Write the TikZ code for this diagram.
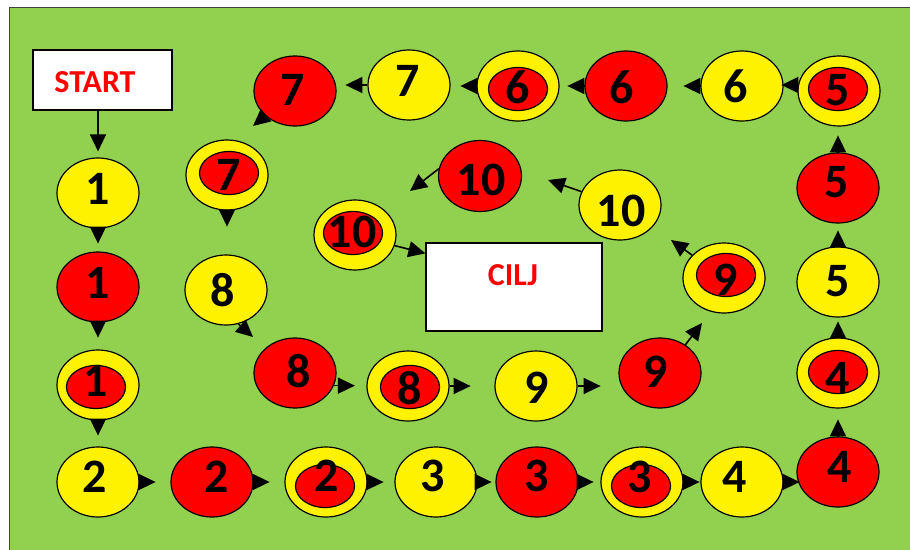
\documentclass[tikz,border=0pt]{standalone}
\usepackage{fontspec}
\setmainfont{Carlito}
\usetikzlibrary{shapes.geometric,arrows.meta}
\definecolor{bggreen}{HTML}{92D050}
\definecolor{bdgray}{HTML}{404040}
\tikzset{
 tok/.style={ellipse, draw=black, line width=1.2pt, minimum width=82pt, minimum height=70pt, inner sep=0pt},
 yel/.style={tok, fill=yellow},
 rd/.style={tok, fill=red},
 inr/.style={ellipse, draw=black, line width=1.2pt, fill=red, minimum width=59pt, minimum height=43pt, inner sep=0pt},
 num/.style={font=\bfseries\fontsize{48}{48}\selectfont, inner sep=0pt},
 lbl/.style={font=\bfseries\fontsize{32}{32}\selectfont, text=red, inner sep=0pt},
 whitebox/.style={draw=black, line width=1.2pt, fill=white, inner sep=0pt},
 tri/.style={line width=1.6pt, -{Triangle[length=17pt,width=16pt]}},
}
\begin{document}
\begin{tikzpicture}[x=1pt,y=-1pt]
\useasboundingbox (0,0) rectangle (910,549);
\draw[fill=bggreen, draw=bdgray, line width=1.5pt] (9.5,7.5) rectangle (930,570);

% boxes
\node[whitebox, minimum width=139pt, minimum height=60pt] (start) at (102.5,80) {};
\node[lbl] (startt) at (95,82) {START};
\node[whitebox, minimum width=176pt, minimum height=88pt] (cilj) at (514,287) {};
\node[lbl] (ciljt) at (513,275) {CILJ};

% plain tokens
\node[yel] (y1) at (98,193) {};  \node[num] (y1t) at (98,189) {1};
\node[rd]  (r1) at (98,287) {};  \node[num] (r1t) at (98,283) {1};
\node[yel] (y2) at (98,482) {};  \node[num] (y2t) at (95,477) {2};
\node[rd]  (r2) at (212,482) {}; \node[num] (r2t) at (217,477) {2};
\node[yel] (y3) at (436,482) {}; \node[num] (y3t) at (433,476) {3};
\node[rd]  (r3) at (537,482) {}; \node[num] (r3t) at (537,476) {3};
\node[yel] (y4) at (742,482) {}; \node[num] (y4t) at (735,477) {4};
\node[rd]  (r4) at (838,472) {}; \node[num] (r4t) at (840,467) {4};
\node[yel] (y5) at (838,282) {}; \node[num] (y5t) at (838,281) {5};
\node[rd]  (r5) at (838,188) {}; \node[num] (r5t) at (837,182) {5};
\node[yel] (y6) at (742,86) {};  \node[num] (y6t) at (736,86) {6};
\node[rd]  (r6) at (626,86) {};  \node[num] (r6t) at (622,87) {6};
\node[yel] (y7) at (409,85) {};  \node[num] (y7t) at (408,81) {7};
\node[rd]  (r7) at (295,91) {};  \node[num] (r7t) at (293,90) {7};
\node[yel] (y8) at (226,290) {}; \node[num] (y8t) at (223,290) {8};
\node[rd]  (r8) at (295,373) {}; \node[num] (r8t) at (299,371) {8};
\node[yel] (y9) at (536,386) {}; \node[num] (y9t) at (537,388) {9};
\node[rd]  (r9) at (660,373) {}; \node[num] (r9t) at (656,372) {9};
\node[yel] (y10) at (620,205) {}; \node[num] (y10t) at (621,211) {10};
\node[rd, minimum width=83pt, minimum height=71pt] (r10) at (480,176) {}; \node[num] (r10t) at (481,180) {10};

% double tokens
\node[yel] (d1) at (98,385) {};  \node[inr] (d1i) at (96,387) {};  \node[num] (d1t) at (96,381) {1};
\node[yel] (d2) at (326,482) {}; \node[inr] (d2i) at (325,486) {}; \node[num] (d2t) at (327,476) {2};
\node[yel] (d3) at (642,482) {}; \node[inr] (d3i) at (641,486) {}; \node[num] (d3t) at (640,477) {3};
\node[yel] (d4) at (838,373) {}; \node[inr] (d4i) at (838,372) {}; \node[num] (d4t) at (838,378) {4};
\node[yel] (d5) at (839,91) {};  \node[inr] (d5i) at (838,89) {};  \node[num] (d5t) at (838,90) {5};
\node[yel] (d6) at (518,86) {};  \node[inr] (d6i) at (518,89) {};  \node[num] (d6t) at (518,87) {6};
\node[yel] (d7) at (227,175) {}; \node[inr] (d7i) at (229,173) {}; \node[num] (d7t) at (229,175) {7};
\node[yel] (d8) at (408,386) {}; \node[inr] (d8i) at (410,387) {}; \node[num] (d8t) at (410,388) {8};
\node[yel] (d9) at (724,278) {}; \node[inr] (d9i) at (726,275) {}; \node[num] (d9t) at (726,280) {9};
\node[yel] (d10) at (355,235) {}; \node[inr] (d10i) at (353,233) {}; \node[num] (d10t) at (352,232) {10};

% arrows
\draw[tri] (start.south -| y1.north) -- ([yshift=6pt]y1.north);
\draw[tri] (y1.south) -- ++(0,15);
\draw[tri] (r1.south) -- ++(0,15);
\draw[tri] (d1.south) -- ++(0,15);
\draw[tri] (y2.east) -- ++(16,0);
\draw[tri] (r2.east) -- ++(16,0);
\draw[tri] (d2.east) -- ++(16,0);
\draw[tri] (y3.east) -- ++(14,0);
\draw[tri] (r3.east) -- ++(15,0);
\draw[tri] (d3.east) -- ++(16,0);
\draw[tri] (y4.east) -- ++(16,0);
\draw[tri] (r4.north) -- ++(0,-17);
\draw[tri] (d4.north) -- ++(0,-16);
\draw[tri] (y5.north) -- ++(0,-16);
\draw[tri] (r5.north) -- ++(0,-17);
\draw[tri] ([yshift=6pt]d5.west) -- ++(-16,0);
\draw[tri] (y6.west) -- ++(-17,0);
\draw[tri] (r6.west) -- ++(-17,0);
\draw[tri] (d6.west) -- ++(-16,0);
\draw[tri] (y7.west) -- ++(-22,0);
\coordinate (t7) at (253,126);
\draw[tri] (r7) -- (t7);
\draw[tri] (d7.south) -- ++(0,16);
\coordinate (t8) at (253,337);
\draw[tri] (y8.-70) -- (t8);
\draw[tri] (r8.-18) -- ++(21,0);
\draw[tri] (d8.east) -- ++(21,0);
\draw[tri] (y9.east) -- ++(23,0);
\coordinate (t9) at (702,323);
\draw[tri] (r9.48) -- (t9);
\coordinate (t9b) at (671,240);
\draw[tri] (d9) -- (t9b);
\coordinate (t10a) at (548,180);
\draw[tri] (y10) -- (t10a);
\coordinate (t10b) at (410,191);
\draw[tri] (r10.170) -- (t10b);
\draw[tri] (d10.-15) -- ([yshift=-11pt]cilj.north west);
\end{tikzpicture}
\end{document}
